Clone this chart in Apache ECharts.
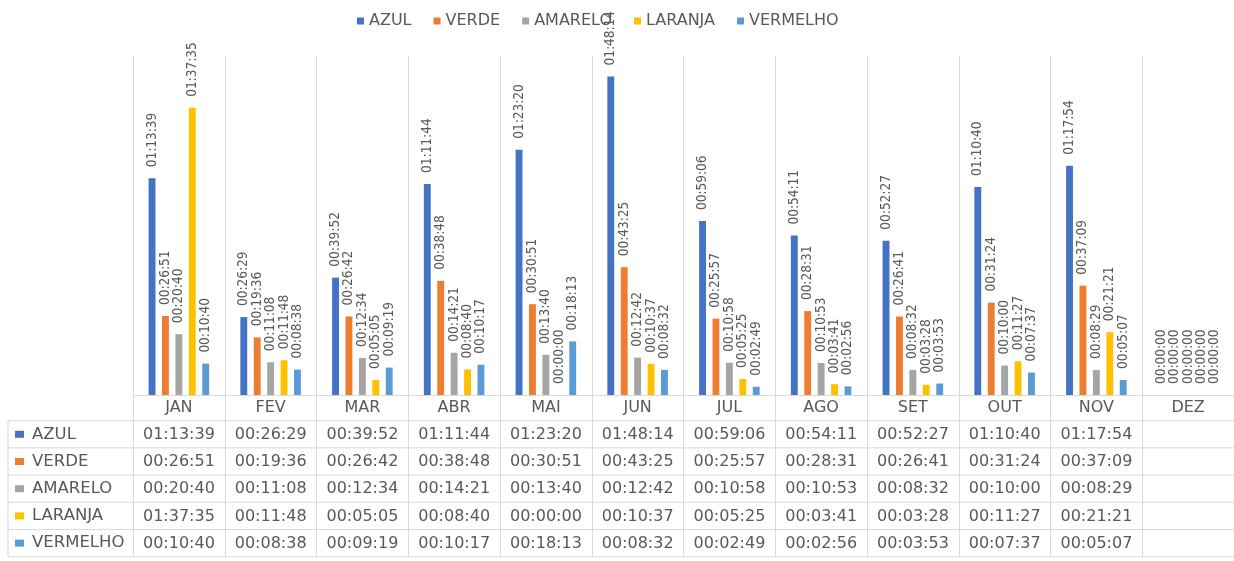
<!DOCTYPE html>
<html>
<head>
<meta charset="utf-8">
<script src="https://cdn.jsdelivr.net/npm/echarts@6/dist/echarts.min.js"></script>
<style>
  html, body { margin: 0; padding: 0; background: #fff; }
  #main { width: 1234px; height: 561px; }
</style>
</head>
<body>
<div id="main"></div>
<script>
// data (hh:mm:ss), null = no value in the table
var months = ['JAN', 'FEV', 'MAR', 'ABR', 'MAI', 'JUN', 'JUL', 'AGO', 'SET', 'OUT', 'NOV', 'DEZ'];
var azul = ['01:13:39', '00:26:29', '00:39:52', '01:11:44', '01:23:20', '01:48:14', '00:59:06', '00:54:11', '00:52:27', '01:10:40', '01:17:54', null];
var verde = ['00:26:51', '00:19:36', '00:26:42', '00:38:48', '00:30:51', '00:43:25', '00:25:57', '00:28:31', '00:26:41', '00:31:24', '00:37:09', null];
var amarelo = ['00:20:40', '00:11:08', '00:12:34', '00:14:21', '00:13:40', '00:12:42', '00:10:58', '00:10:53', '00:08:32', '00:10:00', '00:08:29', null];
var laranja = ['01:37:35', '00:11:48', '00:05:05', '00:08:40', '00:00:00', '00:10:37', '00:05:25', '00:03:41', '00:03:28', '00:11:27', '00:21:21', null];
var vermelho = ['00:10:40', '00:08:38', '00:09:19', '00:10:17', '00:18:13', '00:08:32', '00:02:49', '00:02:56', '00:03:53', '00:07:37', '00:05:07', null];

var seriesNames = ['AZUL', 'VERDE', 'AMARELO', 'LARANJA', 'VERMELHO'];
var seriesData = [azul, verde, amarelo, laranja, vermelho];
var colors = ['#4472C4', '#ED7D31', '#A5A5A5', '#FFC000', '#5B9BD5'];

function toSec(s) {
    if (!s) return 0;
    var p = s.split(':').map(Number);
    return p[0] * 3600 + p[1] * 60 + p[2];
}
function pad(n) { return (n < 10 ? '0' : '') + n; }
function fmt(sec) {
    return pad(Math.floor(sec / 3600)) + ':' + pad(Math.floor(sec % 3600 / 60)) + ':' + pad(sec % 60);
}

var textColor = '#595959';
var lineColor = '#d9d9d9';
var font = 'DejaVu Sans';

// table geometry
var tableLeft = 8, tableRight = 1236, tableTop = 420.7, rowH = 27.2;

var chartDom = document.getElementById('main');
var myChart = echarts.init(chartDom);

var graphics = [];
for (var r = 0; r <= seriesNames.length; r++) {
    graphics.push({
        type: 'line',
        shape: { x1: tableLeft, y1: tableTop + r * rowH, x2: tableRight, y2: tableTop + r * rowH },
        style: { stroke: lineColor, lineWidth: 1 }
    });
}
graphics.push({
    type: 'line',
    shape: { x1: tableLeft, y1: tableTop, x2: tableLeft, y2: tableTop + seriesNames.length * rowH },
    style: { stroke: lineColor, lineWidth: 1 }
});
seriesNames.forEach(function (name, i) {
    var cy = tableTop + rowH * i + rowH / 2;
    graphics.push({
        type: 'rect',
        shape: { x: 15, y: cy - 3.5, width: 9, height: 7 },
        style: { fill: colors[i] }
    });
    graphics.push({
        type: 'text',
        x: 32, y: cy,
        style: { text: name, fill: textColor, font: '16.5px "' + font + '"', verticalAlign: 'middle' }
    });
});

var option = {
    animation: false,
    color: colors,
    textStyle: { fontFamily: font },
    legend: {
        data: seriesNames,
        left: 352,
        top: 8,
        icon: 'rect',
        itemWidth: 7,
        itemHeight: 7,
        itemGap: 22,
        textStyle: { color: textColor, fontSize: 16, fontFamily: font }
    },
    grid: {
        left: 133,
        width: 1103,
        top: 56,
        bottom: 166,
        containLabel: false
    },
    xAxis: {
        type: 'category',
        data: months,
        boundaryGap: true,
        axisLine: { lineStyle: { color: lineColor, width: 1 } },
        axisTick: { show: true, length: 161.7, lineStyle: { color: lineColor, width: 1 } },
        splitLine: { show: true, lineStyle: { color: lineColor, width: 1 } },
        axisLabel: {
            interval: 0,
            margin: -1,
            color: textColor,
            fontSize: 16,
            fontFamily: font,
            lineHeight: 27.2,
            formatter: function (value, idx) {
                var lines = [value];
                seriesData.forEach(function (arr) { lines.push(arr[idx] ? arr[idx] : ' '); });
                return lines.join('\n');
            }
        }
    },
    yAxis: {
        type: 'value',
        min: 0,
        max: 6912,
        show: false,
        splitLine: { show: false }
    },
    series: seriesNames.map(function (name, i) {
        return {
            name: name,
            type: 'bar',
            barGap: '95%',
            barCategoryGap: '34%',
            data: seriesData[i].map(toSec),
            itemStyle: { color: colors[i] },
            label: {
                show: true,
                position: 'top',
                distance: 11,
                rotate: 90,
                align: 'left',
                verticalAlign: 'middle',
                color: textColor,
                fontSize: 13.5,
                fontFamily: '"DejaVu Sans Condensed", "DejaVu Sans"',
                formatter: function (p) { return fmt(p.value); }
            }
        };
    }),
    graphic: graphics
};

option && myChart.setOption(option);
</script>
</body>
</html>
